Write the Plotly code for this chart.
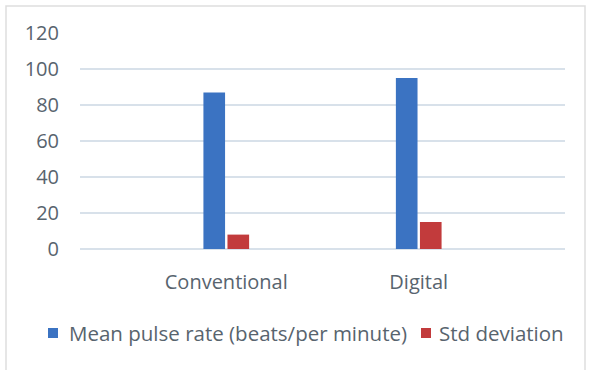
import plotly.graph_objects as go

categories = ["Conventional", "Digital"]
mean_pulse = [87, 95]
std_dev = [8, 15]
series_names = ["Mean pulse rate (beats/per minute)", "Std deviation"]
colors = ["#3b73c2", "#c23b3c"]
y_ticks = [0, 20, 40, 60, 80, 100, 120]

FONT = "Open Sans"
TXT = "#58646e"
FS = 20

# plot-area geometry in pixels (for legend placement)
L, R, T, B = 80, 565, 33, 249
def px(x):
    return (x - L) / (R - L)
def py(y):
    return (B - y) / (B - T)

fig = go.Figure()
fig.add_trace(go.Bar(x=categories, y=mean_pulse, name=series_names[0],
                     marker=dict(color=colors[0], line=dict(width=0))))
fig.add_trace(go.Bar(x=categories, y=std_dev, name=series_names[1],
                     marker=dict(color=colors[1], line=dict(width=0))))

shapes = [dict(type="rect", xref="paper", yref="paper", x0=px(6), x1=px(585),
               y0=py(420), y1=py(6), line=dict(color="#dedede", width=1.5),
               fillcolor="rgba(0,0,0,0)", layer="below")]
annotations = []
legend_items = [(48, 67, series_names[0], colors[0]), (421, 437, series_names[1], colors[1])]
for sx, tx, name, c in legend_items:
    shapes.append(dict(type="rect", xref="paper", yref="paper", x0=px(sx), x1=px(sx + 10),
                       y0=py(338), y1=py(328), line=dict(width=0), fillcolor=c))
    annotations.append(dict(text=name, xref="paper", yref="paper", x=px(tx), y=py(333),
                            xanchor="left", yanchor="middle", showarrow=False,
                            font=dict(family=FONT, size=20.5, color=TXT)))

fig.update_layout(
    width=590, height=370,
    margin=dict(l=L, r=590 - R, t=T, b=370 - B),
    paper_bgcolor="white", plot_bgcolor="white",
    barmode="group", bargap=0.75, bargroupgap=0.1,
    font=dict(family=FONT, size=FS, color=TXT),
    showlegend=False,
    xaxis=dict(range=[-0.76, 1.76], showgrid=False, showline=False, ticks="",
               ticklabelstandoff=19, tickfont=dict(size=FS, color=TXT)),
    yaxis=dict(range=[0, 120], tickvals=y_ticks, showgrid=True, gridcolor="#d8e1ea",
               gridwidth=1.5, zeroline=True, zerolinecolor="#d8e1ea", zerolinewidth=1.5,
               showline=False, ticks="", ticklabelstandoff=20,
               tickfont=dict(size=FS, color=TXT)),
    shapes=shapes,
    annotations=annotations,
)

fig.write_html("out.html")
